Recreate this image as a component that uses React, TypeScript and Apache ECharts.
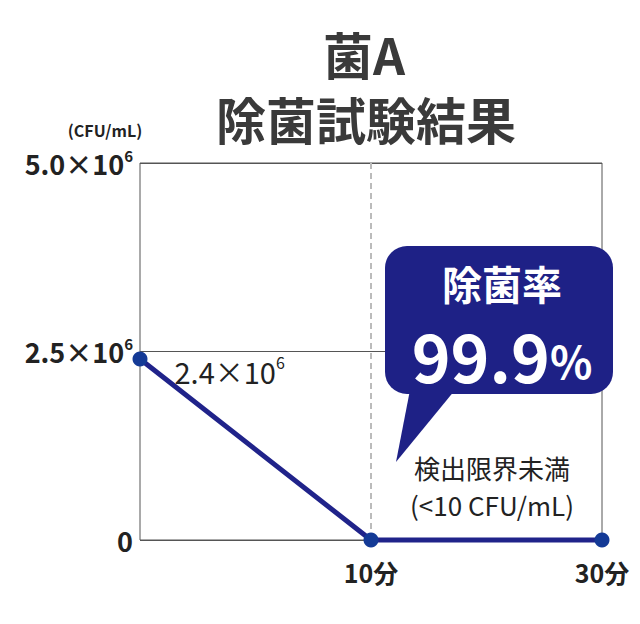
import { useEffect, useRef } from 'react';
import * as echarts from 'echarts';

const FONT = '"Noto Sans CJK JP", "Noto Sans", sans-serif';

const timeLabels = ['', '10分', '30分'];
const cfuValues = [2400000, 0, 0];
const yTicks = [0, 2500000, 5000000];
const yTickText: Record<number, string> = {
  0: '{b|0}',
  2500000: '{b|2.5×10}{s|6}',
  5000000: '{b|5.0×10}{s|6}',
};

export default function App() {
  const ref = useRef<HTMLDivElement>(null);

  useEffect(() => {
    if (!ref.current) return;
    const chart = echarts.init(ref.current, undefined, { renderer: 'svg' });

    const option: echarts.EChartsOption = {
      animation: false,
      backgroundColor: '#fff',
      textStyle: { fontFamily: FONT },
      grid: {
        left: 140,
        right: 38,
        top: 163,
        bottom: 84,
        show: true,
        borderColor: '#555',
        borderWidth: 1,
      },
      xAxis: {
        type: 'category',
        data: timeLabels,
        boundaryGap: false,
        axisLine: { show: false },
        axisTick: { show: false },
        axisLabel: {
          margin: 19,
          color: '#222',
          fontSize: 25,
          fontWeight: 'bold',
          fontFamily: FONT,
          interval: 0,
        },
        splitLine: {
          show: true,
          interval: (index: number) => index === 1,
          lineStyle: { color: '#bbb', type: [6, 4], width: 2 },
        },
      },
      yAxis: {
        type: 'value',
        min: yTicks[0],
        max: yTicks[2],
        interval: 2500000,
        axisLine: { show: false },
        axisTick: { show: false },
        axisLabel: {
          margin: 7,
          formatter: (v: number) => yTickText[v] ?? '',
          rich: {
            b: { fontSize: 27, fontWeight: 'bold', color: '#222', fontFamily: FONT },
            s: { fontSize: 15, fontWeight: 'bold', color: '#222', fontFamily: FONT, padding: [0, 0, 16, 0] },
          },
        },
        splitLine: { show: true, lineStyle: { color: '#555', width: 1 } },
      },
      series: [
        {
          type: 'line',
          data: cfuValues.map((v, i) =>
            i === 0
              ? {
                  value: v,
                  label: {
                    show: true,
                    position: 'right',
                    distance: 27,
                    offset: [0, 12],
                    formatter: '{n|2.4×10}{s|6}',
                    rich: {
                      n: { fontSize: 29, color: '#222', fontFamily: FONT },
                      s: { fontSize: 16, color: '#222', fontFamily: FONT, padding: [0, 0, 18, 0] },
                    },
                  },
                }
              : v
          ),
          clip: false,
          symbol: 'circle',
          symbolSize: 15,
          itemStyle: { color: '#143a96' },
          lineStyle: { color: '#20238a', width: 5 },
          z: 5,
        },
      ],
      graphic: [
        {
          type: 'text',
          style: {
            text: '菌A',
            x: 364,
            y: 53,
            align: 'center',
            verticalAlign: 'middle',
            fontSize: 50,
            fontWeight: 'bold',
            fill: '#3a3a3a',
            fontFamily: FONT,
          },
        },
        {
          type: 'text',
          style: {
            text: '除菌試験結果',
            x: 366,
            y: 118,
            align: 'center',
            verticalAlign: 'middle',
            fontSize: 50,
            fontWeight: 'bold',
            fill: '#3a3a3a',
            fontFamily: FONT,
          },
        },
        {
          type: 'text',
          style: {
            text: '(CFU/mL)',
            x: 105,
            y: 130,
            align: 'center',
            verticalAlign: 'middle',
            fontSize: 16,
            fontWeight: 'bold',
            fill: '#222',
            fontFamily: FONT,
          },
        },
        {
          type: 'polygon',
          shape: { points: [[410, 390], [455, 390], [396, 462]] },
          style: { fill: '#1e2186' },
          z: 10,
        },
        {
          type: 'rect',
          shape: { x: 385, y: 246, width: 228, height: 148, r: 22 },
          style: { fill: '#1e2186' },
          z: 10,
        },
        {
          type: 'text',
          style: {
            text: '除菌率',
            x: 502,
            y: 283,
            align: 'center',
            verticalAlign: 'middle',
            fontSize: 40,
            lineHeight: 44,
            fontWeight: 'bold',
            fill: '#fff',
            fontFamily: FONT,
          },
          z: 11,
        },
        {
          type: 'text',
          style: {
            text: '{n|99.9}{p|%}',
            x: 502,
            y: 354,
            align: 'center',
            verticalAlign: 'middle',
            fill: '#fff',
            rich: {
              n: { fontSize: 66, lineHeight: 64, fontWeight: 'bold', fill: '#fff', fontFamily: FONT },
              p: { fontSize: 44, lineHeight: 44, fontWeight: 'bold', fill: '#fff', fontFamily: FONT, padding: [12, 0, 0, 0] },
            },
          },
          z: 11,
        },
        {
          type: 'text',
          style: {
            text: '検出限界未満\n(<10 CFU/mL)',
            x: 492,
            y: 486,
            align: 'center',
            verticalAlign: 'middle',
            fontSize: 26,
            lineHeight: 37,
            fill: '#222',
            fontFamily: FONT,
          },
        },
      ],
    };

    chart.setOption(option);
    return () => chart.dispose();
  }, []);

  return <div ref={ref} style={{ position: 'fixed', left: 0, top: 0, width: 640, height: 624 }} />;
}
